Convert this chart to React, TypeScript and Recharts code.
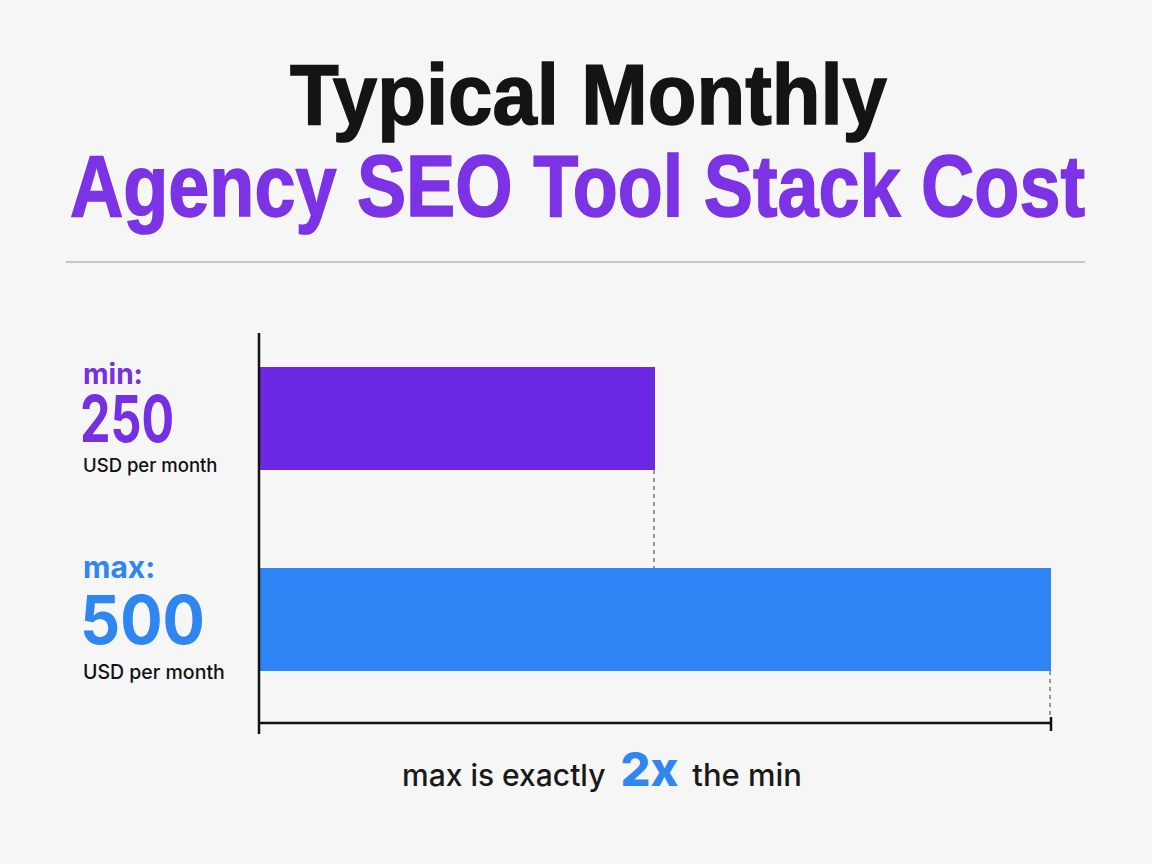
import React from 'react';
import { BarChart, Bar, XAxis, YAxis, Cell } from 'recharts';

// ---- data ----
const categories = ['min', 'max'];
const values = [250, 500];
const unitLabel = 'USD per month';
const xTicks = [0, 500];
const xDomain = [0, 500];
const titleLine1 = 'Typical Monthly';
const titleLine2 = 'Agency SEO Tool Stack Cost';
const captionParts = ['max is exactly', '2x', 'the min'];

// ---- styles / layout ----
const barColors = ['#6d28e3', '#2e84f2'];
const W = 1152;
const H = 864;
const MARGIN = { top: 318, right: 101, bottom: 111, left: 0 };
const X_AXIS_H = 30;
const Y_AXIS_W = 259;
const Y_PAD_BOTTOM = 3;
const PLOT_BOTTOM = H - MARGIN.bottom - X_AXIS_H; // 723
const BAND = (PLOT_BOTTOM - MARGIN.top - Y_PAD_BOTTOM) / categories.length;
const AXIS_TOP = 333;
const LABEL_INDENT = 176;

const labelStyles: Record<string, any> = {
  min: {
    color: '#7430e2', headSize: 28, headDy: -34.5,
    numSize: 64, numDy: 23.5, numWeight: 700, numLen: 94,
    unitSize: 18.5, unitDy: 53.5,
  },
  max: {
    color: '#2f86f0', headSize: 30, headDy: -41.5,
    numSize: 67, numDy: 24.5, numWeight: 700, numLen: 125,
    unitSize: 19.5, unitDy: 59.5,
  },
};

const data = categories.map((name, i) => ({ name, value: values[i] }));

const YTick = (props: any) => {
  const { x, y, payload } = props;
  const s = labelStyles[payload.value];
  const idx = categories.indexOf(payload.value);
  const lx = x - LABEL_INDENT;
  return (
    <g>
      <text x={lx} y={y + s.headDy} fill={s.color} fontFamily="Inter, sans-serif" fontWeight={700} fontSize={s.headSize} textAnchor="start">
        {payload.value}:
      </text>
      <text x={lx - 3} y={y + s.numDy} fill={s.color} fontFamily="Inter, sans-serif" fontWeight={s.numWeight} fontSize={s.numSize} textLength={s.numLen} lengthAdjust="spacingAndGlyphs" textAnchor="start">
        {values[idx]}
      </text>
      <text x={lx} y={y + s.unitDy} fill="#111" fontFamily="Inter, sans-serif" fontWeight={500} fontSize={s.unitSize} textAnchor="start">
        {unitLabel}
      </text>
    </g>
  );
};

const XTick = (props: any) => {
  const { x, y, payload } = props;
  if (payload.value === xDomain[0]) {
    return <line x1={x} x2={x} y1={y - (PLOT_BOTTOM - AXIS_TOP)} y2={y + 11} stroke="#111" strokeWidth={2.5} />;
  }
  return <line x1={x} x2={x} y1={y - 6} y2={y + 8} stroke="#111" strokeWidth={2.5} />;
};

const BarWithGuide = (props: any) => {
  const { x, y, width, height, fill } = props;
  const ex = x + width - 1;
  const y2 = Math.min(y + BAND, PLOT_BOTTOM - 4);
  return (
    <g>
      <line x1={ex} x2={ex} y1={y + height} y2={y2} stroke="#9a9a9a" strokeWidth={2} strokeDasharray="4 4" />
      <rect x={x} y={y} width={width} height={height} fill={fill} />
    </g>
  );
};

export default function App() {
  return (
    <div style={{ position: 'absolute', left: 0, top: 0, width: W, height: H, background: '#f6f6f6', overflow: 'hidden' }}>
      <svg width={W} height={H} style={{ position: 'absolute', left: 0, top: 0 }}>
        <text x={290} y={124} fontFamily='"Liberation Sans", Arial, sans-serif' fontWeight={700} fontSize={85} textLength={597} lengthAdjust="spacingAndGlyphs" fill="#141414" stroke="#141414" strokeWidth={1.5}>
          {titleLine1}
        </text>
        <text x={70} y={216} fontFamily='"Liberation Sans", Arial, sans-serif' fontWeight={700} fontSize={88} textLength={1015} lengthAdjust="spacingAndGlyphs" fill="#7b33e5" stroke="#7b33e5" strokeWidth={1.5}>
          {titleLine2}
        </text>
        <line x1={66} x2={1085} y1={262} y2={262} stroke="#c4c6ca" strokeWidth={2} />
        <text x={402} y={786} fontFamily="Inter, sans-serif" fontWeight={500} fontSize={30} fill="#1a1a1a">
          <tspan>{captionParts[0]}</tspan>
          <tspan dx={15} fontSize={47} fontWeight={800} fill="#2f86f0">{captionParts[1]}</tspan>
          <tspan dx={14} fontSize={31}>{captionParts[2]}</tspan>
        </text>
      </svg>
      <div style={{ position: 'absolute', left: 0, top: 0 }}>
        <BarChart width={W} height={H} data={data} layout="vertical" margin={MARGIN}>
          <XAxis
            type="number"
            dataKey="value"
            domain={xDomain}
            ticks={xTicks}
            height={X_AXIS_H}
            axisLine={{ stroke: '#111', strokeWidth: 2.5 }}
            tickLine={false}
            tickSize={0}
            tickMargin={0}
            tick={<XTick />}
            interval={0}
          />
          <YAxis
            type="category"
            dataKey="name"
            width={Y_AXIS_W}
            axisLine={false}
            tickLine={false}
            tickSize={0}
            tickMargin={0}
            tick={<YTick />}
            padding={{ top: 0, bottom: Y_PAD_BOTTOM }}
            interval={0}
          />
          <Bar dataKey="value" barSize={103} isAnimationActive={false} shape={<BarWithGuide />}>
            {data.map((d, i) => (
              <Cell key={d.name} fill={barColors[i]} />
            ))}
          </Bar>
        </BarChart>
      </div>
    </div>
  );
}
